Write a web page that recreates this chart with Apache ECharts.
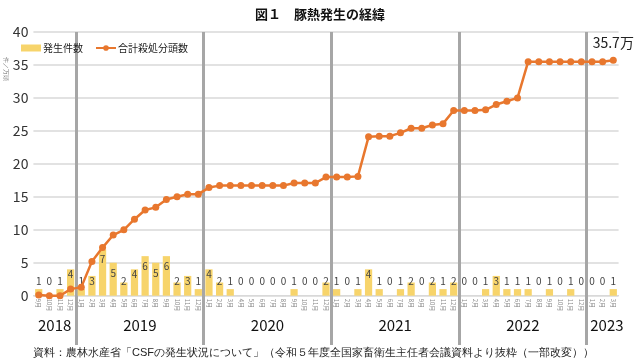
<!DOCTYPE html>
<html><head><meta charset="utf-8">
<script src="https://cdn.jsdelivr.net/npm/echarts@6/dist/echarts.min.js"></script>
<style>html,body{margin:0;padding:0;background:#fff}#c{width:640px;height:364px}</style>
</head><body><div id="c"></div>
<script>
const months = [
 '9月','10月','11月','12月',
 '1月','2月','3月','4月','5月','6月','7月','8月','9月','10月','11月','12月',
 '1月','2月','3月','4月','5月','6月','7月','8月','9月','10月','11月','12月',
 '1月','2月','3月','4月','5月','6月','7月','8月','9月','10月','11月','12月',
 '1月','2月','3月','4月','5月','6月','7月','8月','9月','10月','11月','12月',
 '1月','2月','3月'];
const outbreaks = [
 1,0,1,4,
 1,3,7,5,2,4,6,5,6,2,3,1,
 4,2,1,0,0,0,0,0,1,0,0,2,
 1,0,1,4,1,0,1,2,0,2,1,2,
 0,0,1,3,1,1,1,0,1,0,1,0,
 0,0,1];
const culled = [
 0.1,0,0,1.0,
 1.3,5.2,7.3,9.2,10.0,11.6,13.0,13.4,14.6,15.0,15.4,15.4,
 16.4,16.7,16.7,16.7,16.7,16.7,16.7,16.7,17.1,17.1,17.1,18.0,
 18.0,18.0,18.1,24.1,24.2,24.2,24.7,25.4,25.4,25.9,26.1,28.1,
 28.1,28.1,28.2,29.0,29.5,30.0,35.5,35.5,35.5,35.5,35.5,35.5,
 35.5,35.5,35.7];
const yearLabels = ['2018','2019','2020','2021','2022','2023'];
const yearCenters = [2, 10, 22, 34, 46, 53.9];
const yearBoundaries = [4, 16, 28, 40, 52];

const barData = outbreaks.map(v => ({
  value: v,
  label: v <= 2 ? {position: 'insideBottom', distance: 9} : {position: 'insideTop', distance: v >= 5 ? 5 : 0}
}));
const lineData = culled.map((v, i) => i === culled.length - 1 ?
  {value: v, label: {show: true, position: 'top', distance: 7, formatter: '35.7万', fontSize: 14, color: '#222', fontFamily: 'Noto Sans CJK JP'}} : v);

const chart = echarts.init(document.getElementById('c'));
chart.setOption({
  animation: false,
  textStyle: {fontFamily: 'Noto Sans CJK JP'},
  title: {text: '図１　豚熱発生の経緯', left: 'center', top: 3,
    textStyle: {fontSize: 13, fontWeight: 'bold', color: '#111'}},
  legend: {left: 16, top: 38, itemGap: 12, itemWidth: 20, itemHeight: 7,
    textStyle: {fontSize: 10, color: '#222', padding: [0, 0, 0, -3]},
    data: [{name: '発生件数', icon: 'rect', itemWidth: 15}, {name: '合計殺処分頭数'}]},
  grid: {left: 33.4, right: 21.4, top: 32, bottom: 68.3},
  xAxis: [{
    type: 'category', data: months,
    axisLine: {lineStyle: {color: '#d9d9d9'}},
    axisTick: {show: false},
    splitLine: {show: false},
    axisLabel: {interval: 0, rotate: -90, fontSize: 6, color: '#888', margin: 3}
  }, {
    type: 'value', min: 0, max: 55, position: 'bottom', offset: 22,
    axisLine: {show: false}, axisTick: {show: false}, splitLine: {show: false},
    axisLabel: {customValues: yearCenters, margin: 0, fontSize: 15, color: '#111',
      formatter: (v) => yearLabels[yearCenters.indexOf(v)]}
  }, {
    type: 'value', min: 0, max: 55, position: 'top',
    axisLine: {show: false}, splitLine: {show: false}, axisLabel: {show: false},
    axisTick: {show: true, inside: true, length: 313, customValues: yearBoundaries,
      lineStyle: {color: '#a6a6a6', width: 3}}
  }],
  yAxis: {type: 'value', min: 0, max: 40, interval: 5,
    axisLine: {show: false}, axisTick: {show: false},
    splitLine: {lineStyle: {color: '#d9d9d9', width: 1.5}},
    axisLabel: {fontSize: 14, color: '#333', margin: 5}},
  series: [{
    name: '発生件数', type: 'bar', data: barData, barCategoryGap: '32%',
    itemStyle: {color: '#F7D46B'},
    label: {show: true, fontSize: 10, color: '#444'}
  }, {
    name: '合計殺処分頭数', type: 'line', data: lineData,
    symbol: 'circle', symbolSize: 7,
    itemStyle: {color: '#E8772E'}, lineStyle: {color: '#E8772E', width: 2.5}
  }],
  graphic: [
    {type: 'text', left: 3, top: 57, rotation: -Math.PI / 2,
      style: {text: '件／万頭', fontSize: 6, fill: '#666'}},
    {type: 'text', left: 33, top: 347,
      style: {text: '資料：農林水産省「CSFの発生状況について」（令和５年度全国家畜衛生主任者会議資料より抜粋（一部改変））', fontSize: 11, fill: '#222'}}
  ]
});
</script></body></html>
